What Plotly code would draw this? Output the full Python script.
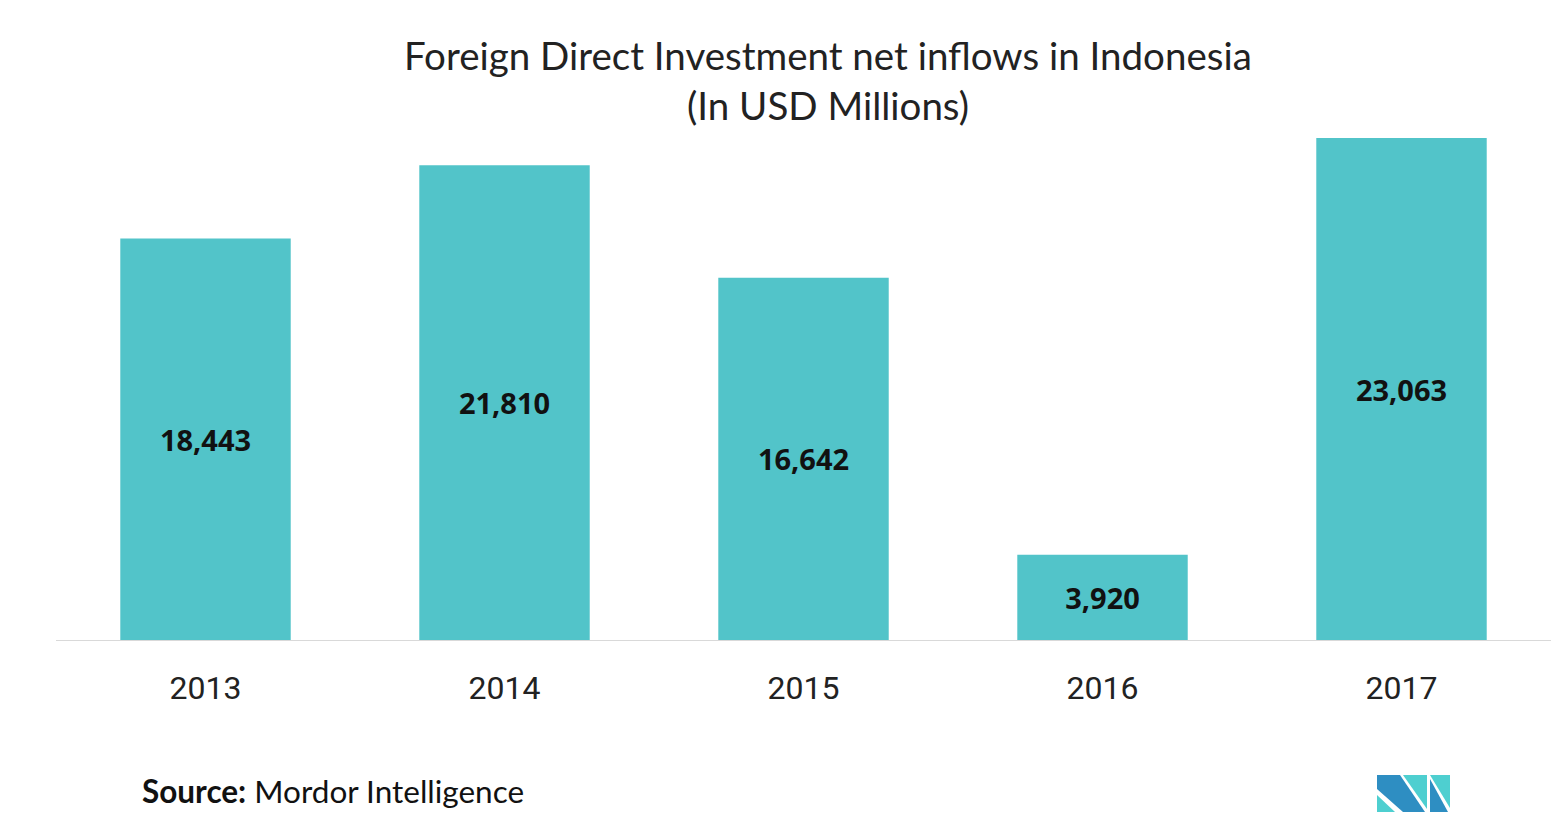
import plotly.graph_objects as go

years = ["2013", "2014", "2015", "2016", "2017"]
fdi_values = [18443, 21810, 16642, 3920, 23063]

title_line1 = "Foreign Direct Investment net inflows in Indonesia"
title_line2 = "(In USD Millions)"
source_label = "Source:"
source_name = "Mordor Intelligence"

W, H = 1552, 830
L, R, T, B = 56, 1, 130, 190
PW, PH = W - L - R, H - T - B


def px(x):
    return (x - L) / PW


def py(y):
    return (H - B - y) / PH


fig = go.Figure()
fig.add_trace(go.Bar(
    x=years, y=fdi_values,
    marker=dict(color="#52C4C9", line=dict(width=0)),
    texttemplate="%{y:,}",
    textposition="inside",
    insidetextanchor="middle",
    textangle=0,
    textfont=dict(family="Open Sans", size=29, color="#111111", weight="bold"),
    hoverinfo="skip",
))

fig.update_layout(
    width=W, height=H,
    margin=dict(l=L, r=R, t=T, b=B, autoexpand=False),
    paper_bgcolor="white", plot_bgcolor="white",
    bargap=0.43,
    showlegend=False,
    xaxis=dict(
        showline=True, linecolor="#d9d9d9", linewidth=1,
        showgrid=False, zeroline=False, ticks="",
        tickfont=dict(family="Roboto", size=32, color="#222222"),
        ticklabelstandoff=20,
    ),
    yaxis=dict(range=[0, 23431], visible=False, showgrid=False, zeroline=False),
)

title_font = dict(family="Lato", size=38.5, color="#222222")
fig.add_annotation(text=title_line1, xref="paper", yref="paper",
                   x=px(828), y=py(55), xanchor="center", yanchor="middle",
                   showarrow=False, font=title_font)
fig.add_annotation(text=title_line2, xref="paper", yref="paper",
                   x=px(828), y=py(105), xanchor="center", yanchor="middle",
                   showarrow=False, font=title_font)
fig.add_annotation(text=f"<b>{source_label}</b> {source_name}", xref="paper", yref="paper",
                   x=px(140), y=py(791), xanchor="left", yanchor="middle",
                   showarrow=False, font=dict(family="Lato", size=31.5, color="#111111"))

dark = "#2E8EC2"
teal = "#4ECFD0"
logo_polys = [
    ([(1377, 775), (1400, 775), (1425, 812), (1403, 812), (1377, 789)], dark),
    ([(1377, 795), (1377, 812), (1395, 812)], teal),
    ([(1403, 775), (1427, 775), (1427, 809)], teal),
    ([(1430, 775), (1450, 775), (1450, 808)], teal),
    ([(1430, 779), (1430, 812), (1448, 812)], dark),
]
for pts, col in logo_polys:
    path = "M " + " L ".join(f"{px(a):.5f},{py(b):.5f}" for a, b in pts) + " Z"
    fig.add_shape(type="path", path=path, xref="paper", yref="paper",
                  fillcolor=col, line=dict(width=0), layer="above")

fig.write_html("out.html", config={"displayModeBar": False},
               post_script="document.body.style.margin='0';document.body.style.overflow='hidden';")
